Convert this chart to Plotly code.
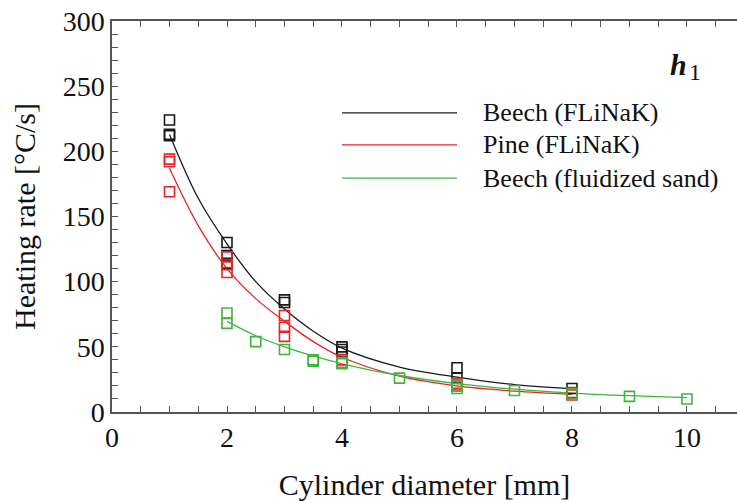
import plotly.graph_objects as go

# ---- data ----
beech_x = [1, 1, 1, 2, 2, 2, 3, 3, 4, 4, 4, 6, 6, 8]
beech_y = [224, 213, 212, 130, 120, 114, 86, 84, 50, 48, 46, 34, 26, 18]
pine_x = [1, 1, 1, 2, 2, 2, 3, 3, 3, 4, 4, 6, 6, 8, 8]
pine_y = [194, 192, 169, 119, 113, 107, 74, 65, 58, 40, 38, 22, 20, 15, 13]
sand_x = [2, 2, 2.5, 3, 3.5, 3.5, 4, 4, 5, 6, 6, 7, 8, 9, 10]
sand_y = [76, 68, 54, 48, 40, 39, 38, 37, 26, 21, 18, 16.5, 14, 12, 10]

# fitted curves
beech_fit_x = [1, 1.5, 2, 2.5, 3, 3.5, 4, 5, 6, 7, 8]
beech_fit_y = [213, 164, 129, 100, 79, 62, 49, 34.5, 26.8, 21, 18]
pine_fit_x = [1, 1.5, 2, 2.5, 3, 3.5, 4, 5, 6, 7, 8]
pine_fit_y = [187, 143, 110, 87, 69.6, 54, 42, 27.5, 20, 16, 13.5]
sand_fit_x = [2, 2.5, 3, 3.5, 4, 5, 6, 7, 8, 9, 10]
sand_fit_y = [69.5, 58.5, 50, 43, 37, 28, 21.8, 17.5, 14.5, 12.5, 11]

series_names = ["Beech (FLiNaK)", "Pine (FLiNaK)", "Beech (fluidized sand)"]
colors = ["#1a1a1a", "#e8232a", "#3db53d"]

x_ticks = [0, 2, 4, 6, 8, 10]
y_ticks = [0, 50, 100, 150, 200, 250, 300]

FONT = "Liberation Serif"
TXT = "#111111"

fig = go.Figure()

pts = [(beech_x, beech_y), (pine_x, pine_y), (sand_x, sand_y)]
fits = [(beech_fit_x, beech_fit_y), (pine_fit_x, pine_fit_y), (sand_fit_x, sand_fit_y)]

for (fx, fy), c, n in zip(fits, colors, series_names):
    fig.add_trace(go.Scatter(x=fx, y=fy, mode="lines", name=n,
                             line=dict(color=c, width=1.3, shape="spline", smoothing=1.0),
                             showlegend=False))
for (px, py), c, n in zip(pts, colors, series_names):
    fig.add_trace(go.Scatter(x=px, y=py, mode="markers", name=n,
                             marker=dict(symbol="square-open", size=10, color=c,
                                         line=dict(width=1.6, color=c)),
                             showlegend=False))

# manual legend (long sample lines like the reference)
leg_y = [0.765, 0.683, 0.598]
for yy, c, n in zip(leg_y, colors, series_names):
    fig.add_shape(type="line", xref="paper", yref="paper",
                  x0=(342 - 112) / 625, x1=(457 - 112) / 625, y0=yy, y1=yy,
                  line=dict(color=c, width=1.3))
    fig.add_annotation(xref="paper", yref="paper", x=(481 - 112) / 625, y=yy,
                       text=n, showarrow=False, xanchor="left", yanchor="middle",
                       font=dict(family=FONT, size=26, color=TXT))

# panel label h1
fig.add_annotation(xref="paper", yref="paper", x=(689 - 112) / 625, y=(412 - 64) / 391,
                   text="<b><i>h</i></b>", showarrow=False,
                   xanchor="right", yanchor="middle",
                   font=dict(family=FONT, size=30, color=TXT))
fig.add_annotation(xref="paper", yref="paper", x=(687 - 112) / 625, y=(412 - 72) / 391,
                   text="1", showarrow=False,
                   xanchor="left", yanchor="middle",
                   font=dict(family=FONT, size=24, color=TXT))

axis_common = dict(
    showgrid=False, zeroline=False, showline=True, linecolor="#555555", linewidth=1.5,
    ticks="inside", ticklen=6, tickwidth=1.2, tickcolor="#555555",
    tickfont=dict(family=FONT, size=28, color=TXT),
)

fig.update_xaxes(range=[0, 10.87], tickvals=x_ticks, mirror="allticks",
                 minor=dict(dtick=0.5, ticks="inside", ticklen=6, tickwidth=1.2, tickcolor="#555555"),
                 title=dict(text="Cylinder diameter [mm]", font=dict(family=FONT, size=30, color=TXT),
                            standoff=22),
                 **axis_common)
fig.update_yaxes(range=[0, 300], tickvals=y_ticks,
                 minor=dict(dtick=10, ticks="inside", ticklen=6, tickwidth=1.2, tickcolor="#555555"),
                 title=dict(text="Heating rate [°C/s]", font=dict(family=FONT, size=30, color=TXT),
                            standoff=18),
                 **axis_common)

fig.update_layout(width=737, height=502, margin=dict(l=112, r=0, t=21, b=90),
                  plot_bgcolor="white", paper_bgcolor="white", showlegend=False)

fig.write_html("out.html")
